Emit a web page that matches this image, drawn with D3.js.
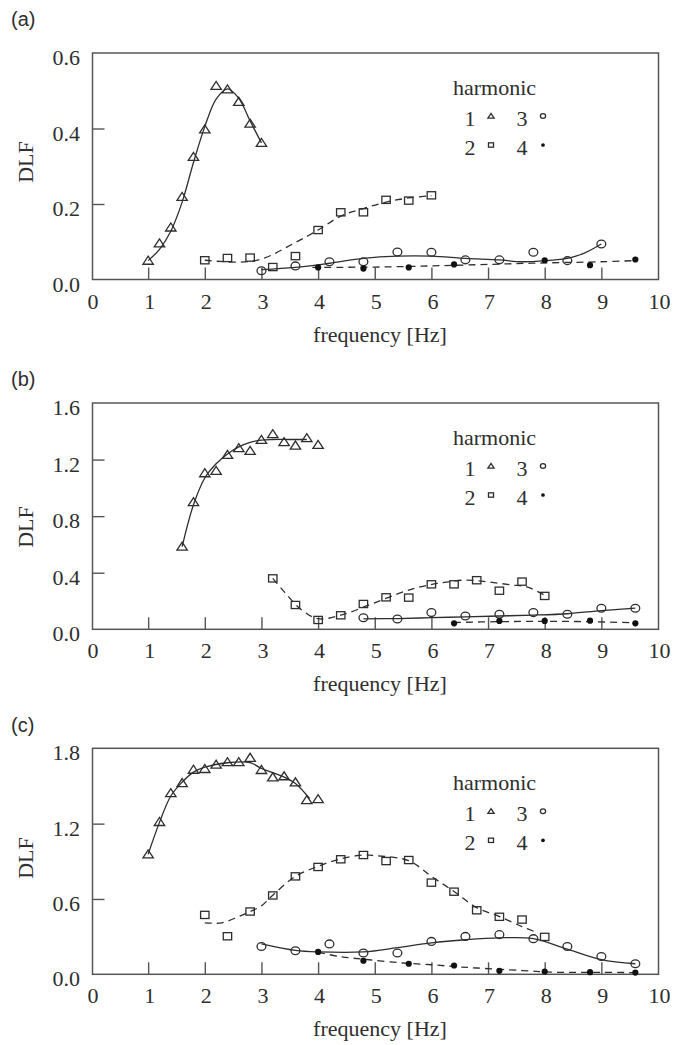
<!DOCTYPE html>
<html>
<head>
<meta charset="utf-8">
<script src="https://cdn.jsdelivr.net/npm/d3@7"></script>
<style>
  html, body { margin: 0; padding: 0; background: #fff; }
  svg { display: block; }
  text { fill: #2e2e2e; }
</style>
</head>
<body>
<script>
// ---------------- DATA ----------------
const xTickValues = [0, 1, 2, 3, 4, 5, 6, 7, 8, 9, 10];
const yTicksA = [0.0, 0.2, 0.4, 0.6];
const yTicksB = [0.0, 0.4, 0.8, 1.2, 1.6];
const yTicksC = [0.0, 0.6, 1.2, 1.8];
const legendTitle = "harmonic";
const xTitle = "frequency [Hz]";
const yTitle = "DLF";

// panel (a)
const a_h1_f = [1.0, 1.2, 1.4, 1.6, 1.8, 2.0, 2.2, 2.4, 2.6, 2.8, 3.0];
const a_h1_v = [0.050, 0.096, 0.138, 0.219, 0.325, 0.398, 0.513, 0.504, 0.471, 0.413, 0.362];
const a_h1_fit_f = [1.0, 1.2, 1.4, 1.6, 1.8, 2.0, 2.2, 2.4, 2.6, 2.8, 3.0];
const a_h1_fit_v = [0.050, 0.080, 0.128, 0.205, 0.310, 0.405, 0.478, 0.505, 0.480, 0.420, 0.362];
const a_h2_f = [2.0, 2.4, 2.8, 3.2, 3.6, 4.0, 4.4, 4.8, 5.2, 5.6, 6.0];
const a_h2_v = [0.051, 0.057, 0.058, 0.033, 0.062, 0.131, 0.178, 0.178, 0.211, 0.209, 0.223];
const a_h2_fit_f = [2.0, 2.6, 3.0, 3.6, 4.0, 4.4, 4.8, 5.2, 5.6, 6.0];
const a_h2_fit_v = [0.051, 0.046, 0.054, 0.098, 0.131, 0.168, 0.188, 0.205, 0.216, 0.222];
const a_h3_f = [3.0, 3.6, 4.2, 4.8, 5.4, 6.0, 6.6, 7.2, 7.8, 8.4, 9.0];
const a_h3_v = [0.023, 0.036, 0.047, 0.047, 0.073, 0.072, 0.052, 0.052, 0.072, 0.050, 0.094];
const a_h3_fit_f = [3.0, 3.6, 4.2, 4.8, 5.4, 6.0, 6.6, 7.2, 7.6, 8.0, 8.4, 8.7, 9.0];
const a_h3_fit_v = [0.026, 0.032, 0.043, 0.056, 0.062, 0.062, 0.056, 0.052, 0.047, 0.050, 0.056, 0.070, 0.094];
const a_h4_f = [4.0, 4.8, 5.6, 6.4, 8.0, 8.8, 9.6];
const a_h4_v = [0.032, 0.029, 0.032, 0.040, 0.051, 0.038, 0.053];
const a_h4_fit_f = [3.9, 5.0, 6.0, 7.0, 8.0, 9.0, 9.6];
const a_h4_fit_v = [0.032, 0.033, 0.036, 0.040, 0.044, 0.047, 0.050];

// panel (b)
const b_h1_f = [1.6, 1.8, 2.0, 2.2, 2.4, 2.6, 2.8, 3.0, 3.2, 3.4, 3.6, 3.8, 4.0];
const b_h1_v = [0.585, 0.900, 1.104, 1.121, 1.234, 1.281, 1.262, 1.340, 1.380, 1.324, 1.300, 1.352, 1.305];
const b_h1_fit_f = [1.6, 1.8, 2.0, 2.2, 2.4, 2.6, 2.8, 3.0, 3.2, 3.5, 3.8];
const b_h1_fit_v = [0.585, 0.880, 1.070, 1.170, 1.240, 1.290, 1.322, 1.338, 1.342, 1.342, 1.342];
const b_h2_f = [3.2, 3.6, 4.0, 4.4, 4.8, 5.2, 5.6, 6.0, 6.4, 6.8, 7.2, 7.6, 8.0];
const b_h2_v = [0.360, 0.172, 0.066, 0.099, 0.179, 0.226, 0.224, 0.318, 0.318, 0.347, 0.273, 0.337, 0.236];
const b_h2_fit_f = [3.2, 3.4, 3.7, 4.0, 4.4, 4.9, 5.4, 5.8, 6.2, 6.6, 7.0, 7.4, 7.7, 8.0];
const b_h2_fit_v = [0.360, 0.266, 0.140, 0.075, 0.100, 0.172, 0.250, 0.300, 0.330, 0.348, 0.335, 0.314, 0.298, 0.240];
const b_h3_f = [4.8, 5.4, 6.0, 6.6, 7.2, 7.8, 8.4, 9.0, 9.6];
const b_h3_v = [0.082, 0.073, 0.118, 0.094, 0.106, 0.118, 0.106, 0.149, 0.149];
const b_h3_fit_f = [4.8, 5.4, 6.0, 6.6, 7.2, 7.8, 8.4, 9.0, 9.6];
const b_h3_fit_v = [0.074, 0.076, 0.082, 0.088, 0.094, 0.100, 0.110, 0.132, 0.150];
const b_h4_f = [6.4, 7.2, 8.0, 8.8, 9.6];
const b_h4_v = [0.042, 0.059, 0.059, 0.061, 0.042];
const b_h4_fit_f = [6.4, 7.2, 8.0, 8.8, 9.6];
const b_h4_fit_v = [0.048, 0.054, 0.056, 0.054, 0.046];

// panel (c)
const c_h1_f = [1.0, 1.2, 1.4, 1.6, 1.8, 2.0, 2.2, 2.4, 2.6, 2.8, 3.0, 3.2, 3.4, 3.6, 3.8, 4.0];
const c_h1_v = [0.956, 1.214, 1.444, 1.524, 1.630, 1.636, 1.670, 1.690, 1.690, 1.725, 1.628, 1.570, 1.578, 1.530, 1.388, 1.396];
const c_h1_fit_f = [1.0, 1.2, 1.4, 1.6, 1.8, 2.0, 2.4, 2.8, 3.0, 3.4, 3.6, 3.85];
const c_h1_fit_v = [0.956, 1.210, 1.420, 1.530, 1.610, 1.650, 1.685, 1.685, 1.640, 1.570, 1.520, 1.400];
const c_h2_f = [2.0, 2.4, 2.8, 3.2, 3.6, 4.0, 4.4, 4.8, 5.2, 5.6, 6.0, 6.4, 6.8, 7.2, 7.6, 8.0];
const c_h2_v = [0.473, 0.303, 0.500, 0.628, 0.780, 0.855, 0.916, 0.950, 0.902, 0.910, 0.730, 0.658, 0.510, 0.458, 0.436, 0.298];
const c_h2_fit_f = [2.0, 2.3, 2.6, 2.8, 3.0, 3.2, 3.6, 4.0, 4.4, 4.8, 5.0, 5.6, 6.0, 6.4, 6.8, 7.2, 7.6, 7.85];
const c_h2_fit_v = [0.410, 0.410, 0.460, 0.500, 0.545, 0.630, 0.780, 0.860, 0.920, 0.950, 0.945, 0.905, 0.780, 0.660, 0.530, 0.460, 0.380, 0.335];
const c_h3_f = [3.0, 3.6, 4.2, 4.8, 5.4, 6.0, 6.6, 7.2, 7.8, 8.4, 9.0, 9.6];
const c_h3_v = [0.222, 0.188, 0.242, 0.170, 0.170, 0.262, 0.302, 0.316, 0.284, 0.222, 0.142, 0.084];
const c_h3_fit_f = [3.0, 3.6, 4.0, 4.8, 5.4, 6.0, 6.6, 7.2, 7.8, 8.4, 9.0, 9.6];
const c_h3_fit_v = [0.242, 0.190, 0.178, 0.178, 0.212, 0.250, 0.275, 0.290, 0.284, 0.200, 0.116, 0.084];
const c_h4_f = [4.0, 4.8, 5.6, 6.4, 7.2, 8.0, 8.8, 9.6];
const c_h4_v = [0.178, 0.108, 0.084, 0.070, 0.028, 0.022, 0.017, 0.014];
const c_h4_fit_f = [4.0, 4.4, 4.9, 5.5, 6.0, 6.4, 6.8, 7.6, 8.2, 9.0, 9.6];
const c_h4_fit_v = [0.175, 0.140, 0.116, 0.090, 0.076, 0.062, 0.050, 0.030, 0.016, 0.016, 0.013];

// ---------------- DRAW ----------------
const W = 675, H = 1045;
const INK = "#2e2e2e";
const SERIF = "'Liberation Serif', 'Times New Roman', serif";
const SANS = "'Liberation Sans', Arial, sans-serif";

const svg = d3.select("body").append("svg").attr("width", W).attr("height", H);

const zip = (f, v) => f.map((d, i) => ({ f: d, v: v[i] }));

const panels = [
  { label: "(a)", labelY: 26, top: 53, bottom: 279.5, yMax: 0.6, yTicks: yTicksA, fmt: d3.format(".1f"), dlfY: 162,
    series: [
      { pts: zip(a_h1_f, a_h1_v), fit: zip(a_h1_fit_f, a_h1_fit_v), mark: "tri", dash: false },
      { pts: zip(a_h2_f, a_h2_v), fit: zip(a_h2_fit_f, a_h2_fit_v), mark: "sq", dash: true },
      { pts: zip(a_h3_f, a_h3_v), fit: zip(a_h3_fit_f, a_h3_fit_v), mark: "circ", dash: false },
      { pts: zip(a_h4_f, a_h4_v), fit: zip(a_h4_fit_f, a_h4_fit_v), mark: "dot", dash: true }
    ] },
  { label: "(b)", labelY: 386, top: 403, bottom: 629.3, yMax: 1.6, yTicks: yTicksB, fmt: d3.format(".1f"), dlfY: 527,
    series: [
      { pts: zip(b_h1_f, b_h1_v), fit: zip(b_h1_fit_f, b_h1_fit_v), mark: "tri", dash: false },
      { pts: zip(b_h2_f, b_h2_v), fit: zip(b_h2_fit_f, b_h2_fit_v), mark: "sq", dash: true },
      { pts: zip(b_h3_f, b_h3_v), fit: zip(b_h3_fit_f, b_h3_fit_v), mark: "circ", dash: false },
      { pts: zip(b_h4_f, b_h4_v), fit: zip(b_h4_fit_f, b_h4_fit_v), mark: "dot", dash: true }
    ] },
  { label: "(c)", labelY: 732, top: 748.3, bottom: 974.3, yMax: 1.8, yTicks: yTicksC, fmt: d3.format(".1f"), dlfY: 858,
    series: [
      { pts: zip(c_h1_f, c_h1_v), fit: zip(c_h1_fit_f, c_h1_fit_v), mark: "tri", dash: false },
      { pts: zip(c_h2_f, c_h2_v), fit: zip(c_h2_fit_f, c_h2_fit_v), mark: "sq", dash: true },
      { pts: zip(c_h3_f, c_h3_v), fit: zip(c_h3_fit_f, c_h3_fit_v), mark: "circ", dash: false },
      { pts: zip(c_h4_f, c_h4_v), fit: zip(c_h4_fit_f, c_h4_fit_v), mark: "dot", dash: true }
    ] }
];

const frameL = 92.5, frameR = 658.5;
const x = d3.scaleLinear().domain([0, 10]).range([91.5, 658]);

function drawMarker(g, type, cx, cy, s) {
  // s = scale factor (1 for data, smaller for legend)
  if (type === "tri") {
    const w = 5.2 * s, h1 = 3.6 * s, h2 = 4.4 * s;
    g.append("path")
      .attr("d", `M${cx - w},${cy + h1}L${cx + w},${cy + h1}L${cx},${cy - h2}Z`)
      .attr("fill", "none").attr("stroke", INK).attr("stroke-width", 1.3);
  } else if (type === "sq") {
    const w = 4.2 * s, h = 3.6 * s;
    g.append("rect").attr("x", cx - w).attr("y", cy - h).attr("width", 2 * w).attr("height", 2 * h)
      .attr("fill", "none").attr("stroke", INK).attr("stroke-width", 1.3);
  } else if (type === "circ") {
    g.append("ellipse").attr("cx", cx).attr("cy", cy).attr("rx", 4.4 * s).attr("ry", 3.9 * s)
      .attr("fill", "none").attr("stroke", INK).attr("stroke-width", 1.3);
  } else {
    g.append("circle").attr("cx", cx).attr("cy", cy).attr("r", 3.1 * s).attr("fill", "#111");
  }
}

panels.forEach(p => {
  const y = d3.scaleLinear().domain([0, p.yMax]).range([p.bottom, p.top]);
  const g = svg.append("g");

  // panel label
  g.append("text").attr("x", 11).attr("y", p.labelY).attr("font-family", SANS).attr("font-size", 20).text(p.label);

  // frame
  g.append("rect").attr("x", frameL).attr("y", p.top).attr("width", frameR - frameL).attr("height", p.bottom - p.top)
    .attr("fill", "none").attr("stroke", "#555").attr("stroke-width", 1.5);

  // x axis ticks (inward) and labels
  const xAxis = d3.axisTop(x).tickValues(xTickValues.filter(v => v > 0 && v < 10)).tickSize(12).tickFormat("");
  const xg = g.append("g").attr("transform", `translate(0,${p.bottom})`).call(xAxis);
  xg.select(".domain").remove();
  xg.selectAll("line").attr("stroke", "#555").attr("stroke-width", 1.4);
  g.selectAll(null).data(xTickValues).enter().append("text")
    .attr("x", d => x(d) + 1.5).attr("y", p.bottom + 29)
    .attr("text-anchor", "middle").attr("font-family", SERIF).attr("font-size", 22)
    .text(d => d);

  // y axis ticks (inward) and labels
  const yAxis = d3.axisRight(y).tickValues(p.yTicks.filter(v => v > 0 && v < p.yMax)).tickSize(12).tickFormat("");
  const yg = g.append("g").attr("transform", `translate(${frameL},0)`).call(yAxis);
  yg.select(".domain").remove();
  yg.selectAll("line").attr("stroke", "#555").attr("stroke-width", 1.4);
  g.selectAll(null).data(p.yTicks).enter().append("text")
    .attr("x", 80).attr("y", d => y(d) + 12)
    .attr("text-anchor", "end").attr("font-family", SERIF).attr("font-size", 22)
    .text(d => p.fmt(d));

  // axis titles
  g.append("text").attr("x", 380).attr("y", p.bottom + 62).attr("text-anchor", "middle")
    .attr("font-family", SERIF).attr("font-size", 22).text(xTitle);
  g.append("text").attr("transform", `translate(33,${p.dlfY}) rotate(-90)`).attr("text-anchor", "middle")
    .attr("font-family", SERIF).attr("font-size", 22).text(yTitle);

  // fit lines
  const line = d3.line().x(d => x(d.f)).y(d => y(d.v)).curve(d3.curveCatmullRom.alpha(0.5));
  p.series.forEach(s => {
    g.append("path").attr("d", line(s.fit)).attr("fill", "none").attr("stroke", INK)
      .attr("stroke-width", 1.3).attr("stroke-dasharray", s.dash ? "7,5" : null);
  });
  // markers
  p.series.forEach(s => {
    s.pts.forEach(d => drawMarker(g, s.mark, x(d.f), y(d.v), 1));
  });

  // legend
  const lt = p.top;
  g.append("text").attr("x", 494.5).attr("y", lt + 42).attr("text-anchor", "middle")
    .attr("font-family", SERIF).attr("font-size", 22).text(legendTitle);
  const rows = [[["1", "tri"], ["3", "circ"]], [["2", "sq"], ["4", "dot"]]];
  rows.forEach((row, ri) => {
    const cy = lt + 64 + ri * 29;
    row.forEach((item, ci) => {
      const nx = 470 + ci * 52;
      g.append("text").attr("x", nx).attr("y", cy + 8.5).attr("text-anchor", "middle")
        .attr("font-family", SERIF).attr("font-size", 22).text(item[0]);
      drawMarker(g, item[1], nx + 21, cy - 1, 0.6);
    });
  });
});
</script>
</body>
</html>
